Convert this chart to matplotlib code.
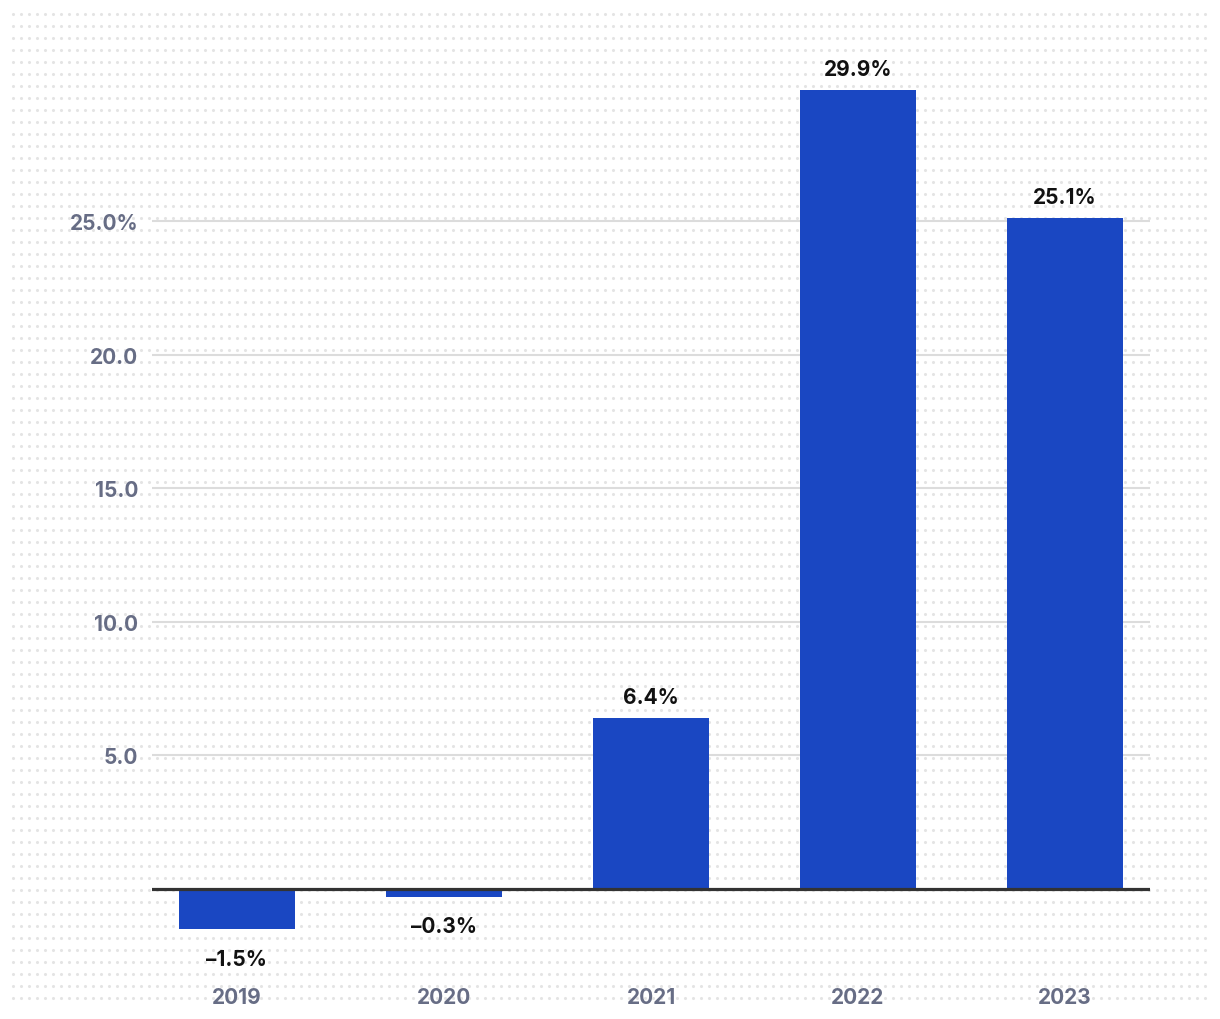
import numpy as np
import matplotlib.pyplot as plt

plt.rcParams['font.family'] = ['Inter', 'DejaVu Sans']

# data
years = ['2019', '2020', '2021', '2022', '2023']
growth = [-1.5, -0.3, 6.4, 29.9, 25.1]
yticks = [5, 10, 15, 20, 25]
ytick_labels = ['5.0', '10.0', '15.0', '20.0', '25.0%']

W, H = 1220, 1020
fig = plt.figure(figsize=(W / 100, H / 100), dpi=100)

# dotted background
bg = fig.add_axes([0, 0, 1, 1], zorder=0)
bg.set_xlim(0, W)
bg.set_ylim(H, 0)
bg.axis('off')
dx, dy = np.meshgrid(np.arange(13, 1210, 8), np.arange(15.3, 1002, 12))
bg.scatter(dx.ravel(), dy.ravel(), s=5, color='#e4e4e4', linewidths=0)

# main axes (pixel layout)
left, right, top, bottom = 152, 1150, 32, 962
zero_y = 890
ppu = (zero_y - 222) / 25.0
ax = fig.add_axes([left / W, (H - bottom) / H, (right - left) / W, (bottom - top) / H], zorder=1)
ax.patch.set_alpha(0)
ax.set_ylim(-(bottom - zero_y) / ppu, (zero_y - top) / ppu)
x = np.arange(len(years))
ax.set_xlim(-0.41, 4.41)

for y in yticks:
    ax.axhline(y, color='#dcdcdc', lw=1.5, zorder=1)
bars = ax.bar(x, growth, width=0.56, color='#1a47c2', zorder=2)
ax.axhline(0, color='#333333', lw=2.3, zorder=3)

for xi, v in zip(x, growth):
    txt = f'{v:.1f}%'.replace('-', '–')
    if v >= 0:
        ax.annotate(txt, (xi, v), xytext=(0, 8), textcoords='offset points',
                    ha='center', va='bottom', fontsize=15, fontweight='bold', color='#111111')
    else:
        ax.annotate(txt, (xi, v), xytext=(0, -14), textcoords='offset points',
                    ha='center', va='top', fontsize=15, fontweight='bold', color='#111111')

ax.set_yticks(yticks)
ax.set_yticklabels(ytick_labels)
ax.set_xticks(x)
ax.set_xticklabels(years)
ax.tick_params(axis='y', length=0, pad=10, labelsize=15, labelcolor='#676d85')
ax.tick_params(axis='x', length=0, pad=19, labelsize=15, labelcolor='#676d85')
for lab in ax.get_xticklabels() + ax.get_yticklabels():
    lab.set_fontweight('bold')
for s in ax.spines.values():
    s.set_visible(False)

fig.savefig('out.png', dpi=100)
